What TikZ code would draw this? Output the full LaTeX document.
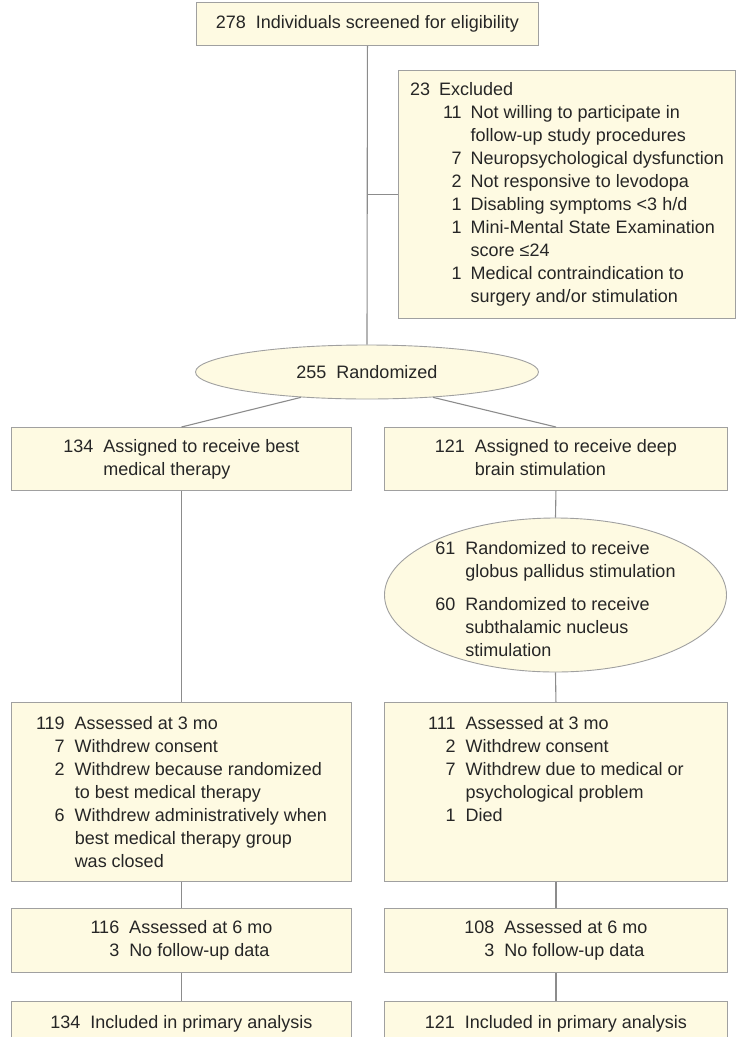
\documentclass[tikz,border=0pt]{standalone}
\usepackage{fontspec}
\setmainfont{Liberation Sans}
\usetikzlibrary{shapes.geometric}
\definecolor{cream}{HTML}{FEFAE2}
\definecolor{rim}{HTML}{A0A0A0}
\definecolor{link}{HTML}{8C8C8C}
\definecolor{ink}{HTML}{262626}
\begin{document}
\begin{tikzpicture}[x=1pt,y=-1pt,
    every node/.style={font=\fontsize{18}{23}\selectfont,text=ink},
    box/.style={draw=rim,fill=cream,line width=0.9pt,anchor=north west,
      minimum width=340pt,minimum height=63pt,inner xsep=10pt,inner ysep=8pt},
    oval/.style={ellipse,draw=rim,fill=cream,line width=0.9pt,inner sep=0pt},
    link/.style={draw=link,line width=1.1pt}]
\useasboundingbox (0,0) rectangle (736,1037);
\clip (0,0) rectangle (736,1037);

\node[box,minimum width=342pt,minimum height=43pt] (screen) at (196,2)
  {278\hspace{10pt}Individuals screened for eligibility};
\node[box,minimum width=337pt,minimum height=248pt,inner xsep=11pt] (excl) at (398,70)
  {\begin{tabular}{@{}l@{}r@{\hspace{9pt}}l@{}}
   \multicolumn{3}{@{}l@{}}{23\hspace{9pt}Excluded}\\
   \hspace{33pt} & 11 & Not willing to participate in\\
   & & follow-up study procedures\\
   & 7 & Neuropsychological dysfunction\\
   & 2 & Not responsive to levodopa\\
   & 1 & Disabling symptoms <3 h/d\\
   & 1 & Mini-Mental State Examination\\
   & & score ≤24\\
   & 1 & Medical contraindication to\\
   & & surgery and/or stimulation
   \end{tabular}};
\node[oval,minimum width=343pt,minimum height=54pt] (rand) at (367,372) {255\hspace{10pt}Randomized};

\node[box] (bmt) at (11,427)
  {\begin{tabular}{@{}r@{\hspace{10pt}}l@{}}
   134 & Assigned to receive best\\ & medical therapy
   \end{tabular}};
\node[box,minimum width=343pt] (dbs) at (384,427)
  {\begin{tabular}{@{}r@{\hspace{10pt}}l@{}}
   121 & Assigned to receive deep\\ & brain stimulation
   \end{tabular}};
\node[oval,minimum width=342pt,minimum height=154pt] (arms) at (555.5,595)
  {\makebox[0pt]{\smash{\raisebox{-10pt}{\begin{tabular}{@{}r@{\hspace{10pt}}l@{}}
   61 & Randomized to receive\\ & globus pallidus stimulation\\[10pt]
   60 & Randomized to receive\\ & subthalamic nucleus\\ & stimulation
   \end{tabular}}}}};

\node[box,minimum height=179pt] (bmt3) at (11,702)
  {\parbox[c][163pt][t]{320pt}{\centering\vspace{3pt}\begin{tabular}[t]{@{}r@{\hspace{10pt}}l@{}}
   119 & Assessed at 3 mo\\
   7 & Withdrew consent\\
   2 & Withdrew because randomized\\ & to best medical therapy\\
   6 & Withdrew administratively when\\ & best medical therapy group\\ & was closed
   \end{tabular}}};
\node[box,minimum width=343pt,minimum height=179pt] (dbs3) at (384,702)
  {\parbox[c][163pt][t]{323pt}{\centering\vspace{3pt}\begin{tabular}[t]{@{}r@{\hspace{10pt}}l@{}}
   111 & Assessed at 3 mo\\
   2 & Withdrew consent\\
   7 & Withdrew due to medical or\\ & psychological problem\\
   1 & Died
   \end{tabular}}};

\node[box,minimum height=64pt] (bmt6) at (11,908)
  {\begin{tabular}{@{}r@{\hspace{10pt}}l@{}}
   116 & Assessed at 6 mo\\ 3 & No follow-up data
   \end{tabular}};
\node[box,minimum width=343pt,minimum height=64pt] (dbs6) at (384,908)
  {\begin{tabular}{@{}r@{\hspace{10pt}}l@{}}
   108 & Assessed at 6 mo\\ 3 & No follow-up data
   \end{tabular}};

\node[box,minimum height=44pt] (bmtp) at (11,1001) {134\hspace{10pt}Included in primary analysis};
\node[box,minimum width=343pt,minimum height=44pt] (dbsp) at (384,1001) {121\hspace{10pt}Included in primary analysis};

\path[link] (screen.south) -- (rand.north);
\path[link] (excl.west) -- (excl.west -| screen.south);
\path[link] (rand.201) -- (bmt.north);
\path[link] (rand.339) -- (dbs.north);
\path[link] (dbs.south) -- (arms.north);
\path[link] (arms.south) -- (dbs3.north);
\path[link] (bmt.south) -- (bmt3.north);
\path[link] (bmt3.south) -- (bmt6.north);
\path[link] (bmt6.south) -- (bmtp.north);
\path[link] (dbs3.south) -- (dbs6.north);
\path[link] (dbs6.south) -- (dbsp.north);
\end{tikzpicture}
\end{document}
